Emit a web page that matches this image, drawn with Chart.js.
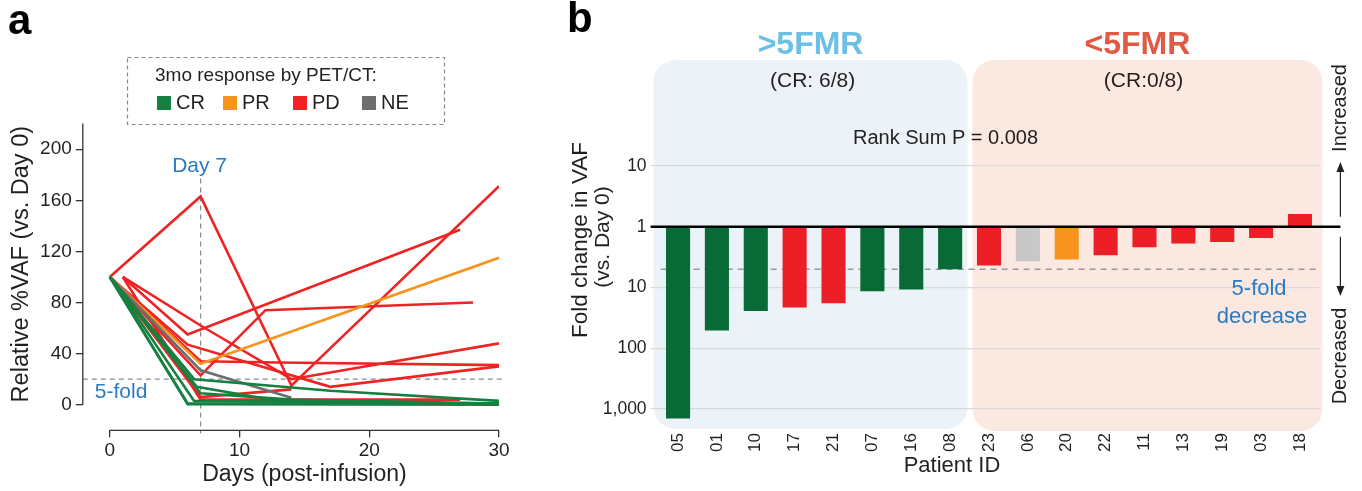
<!DOCTYPE html>
<html>
<head>
<meta charset="utf-8">
<script src="https://cdn.jsdelivr.net/npm/chart.js@4.4.0/dist/chart.umd.min.js"></script>
<style>
    html, body { margin: 0; padding: 0; background: #fff; }
    #chartA { position: absolute; left: 0; top: 0; }
    #chartB { position: absolute; left: 540px; top: 0; }
</style>
</head>
<body>
<canvas id="chartA" width="540" height="491"></canvas>
<canvas id="chartB" width="822" height="491"></canvas>
<script>
// ---- Panel a: relative %VAF over time, one line per patient ----
const crDays = [[0, 6, 30], [0, 6, 30], [0, 6.5, 17, 30], [0, 7, 14, 30], [0, 6.5, 30], [0, 6.7, 13, 30]];
const crVaf  = [[100, 0.5, 0], [100, 1, 1], [100, 20, 11, 3], [100, 9, 4, 1], [100, 3, 1], [100, 14, 3, 0.5]];
const neDays = [[0, 7, 14]];
const neVaf  = [[100, 27, 5.5]];
const prDays = [[0, 7, 30]];
const prVaf  = [[100, 32, 115]];
const pdDays = [[0, 7, 14, 30], [1, 6, 27], [0, 7, 12, 28], [1, 7, 14, 30], [0, 7, 13, 30], [0, 6, 17, 30], [0, 7, 14], [1, 7, 27]];
const pdVaf  = [[100, 163, 15, 171], [100, 55, 137], [100, 23, 74, 80], [100, 62, 20, 48], [100, 34, 33, 31], [100, 47, 14, 30], [100, 6, 12], [100, 4, 4]];
const dayTicks = [0, 10, 20, 30];
const vafTicks = [0, 40, 80, 120, 160, 200];
const legendNames = ['CR', 'PR', 'PD', 'NE'];

// ---- Panel b: fold change in VAF at day 7 per patient ----
const patientIds = ['05', '01', '10', '17', '21', '07', '16', '08', '23', '06', '20', '22', '11', '13', '19', '03', '18'];
const response   = ['CR', 'CR', 'CR', 'PD', 'PD', 'CR', 'CR', 'CR', 'PD', 'NE', 'PR', 'PD', 'PD', 'PD', 'PD', 'PD', 'PD'];
const foldChange = [0.0007, 0.0196, 0.041, 0.047, 0.055, 0.087, 0.093, 0.2, 0.23, 0.27, 0.29, 0.34, 0.46, 0.53, 0.56, 0.65, 1.62];
const foldTicks  = [1, 0, -1, -2, -3]; // log10 of fold change
const foldTickLabels = ['10', '1', '10', '100', '1,000'];

const FONT = "'Liberation Sans', Arial, Helvetica, sans-serif";
const TXT = '#231f20';
const BLUE = '#2a7bc1';
const lineColors = { CR: '#15803f', PR: '#f7941d', PD: '#ee2324', NE: '#6d6e70' };
const barColors  = { CR: '#086a37', PR: '#f7941d', PD: '#ec1f26', NE: '#c8c8c8' };

function text(ctx, str, x, y, size, color, align, weight, rot) {
    ctx.save();
    ctx.font = (weight || 'normal') + ' ' + size + 'px ' + FONT;
    ctx.fillStyle = color;
    ctx.textAlign = align || 'center';
    ctx.textBaseline = 'middle';
    ctx.translate(x, y);
    if (rot) ctx.rotate(rot);
    ctx.fillText(str, 0, 0);
    ctx.restore();
}

function dashedLine(ctx, x1, y1, x2, y2, color, width, dash) {
    ctx.save();
    ctx.strokeStyle = color;
    ctx.lineWidth = width;
    ctx.setLineDash(dash || []);
    ctx.beginPath();
    ctx.moveTo(x1, y1);
    ctx.lineTo(x2, y2);
    ctx.stroke();
    ctx.restore();
}

// Build the line datasets (first dataset is drawn on top, so greens go first)
const datasetsA = [];
function addLines(daysList, vafList, color) {
    daysList.forEach((days, i) => {
        datasetsA.push({
            data: days.map((d, j) => ({ x: d, y: vafList[i][j] })),
            borderColor: color,
            borderWidth: 2.6,
            showLine: true,
            pointRadius: 0,
            fill: false
        });
    });
}
addLines(crDays, crVaf, lineColors.CR);
addLines(neDays, neVaf, lineColors.NE);
addLines(prDays, prVaf, lineColors.PR);
addLines(pdDays, pdVaf, lineColors.PD);

const panelAPlugin = {
    id: 'panelA',
    beforeDatasetsDraw(chart) {
        const ctx = chart.ctx, xs = chart.scales.x, ys = chart.scales.y, area = chart.chartArea;
        // Day 7 and 5-fold reference lines
        dashedLine(ctx, xs.getPixelForValue(7), ys.getPixelForValue(177), xs.getPixelForValue(7), area.bottom + 3, '#8a8a8a', 1.2, [5, 4]);
        dashedLine(ctx, area.left, ys.getPixelForValue(20), area.right + 4, ys.getPixelForValue(20), '#8a8a8a', 1.2, [5, 4]);
    },
    afterDraw(chart) {
        const ctx = chart.ctx, xs = chart.scales.x, ys = chart.scales.y, area = chart.chartArea;
        // Offset axis lines
        dashedLine(ctx, area.left, ys.getPixelForValue(0), area.left, ys.getPixelForValue(220), '#333', 1.3);
        dashedLine(ctx, xs.getPixelForValue(0), area.bottom, xs.getPixelForValue(30), area.bottom, '#333', 1.3);

        text(ctx, 'a', 8, 22, 42, '#000', 'left', 'bold');
        text(ctx, 'Relative %VAF (vs. Day 0)', 22, (ys.getPixelForValue(0) + ys.getPixelForValue(220)) / 2, 23.5, TXT, 'center', 'normal', -Math.PI / 2);
        text(ctx, 'Days (post-infusion)', (xs.getPixelForValue(0) + xs.getPixelForValue(30)) / 2, 475, 23, TXT);
        text(ctx, 'Day 7', xs.getPixelForValue(7) - 1, 166, 21, BLUE);
        text(ctx, '5-fold', area.left + 12, 392, 21, BLUE, 'left');

        // Legend box
        ctx.save();
        ctx.strokeStyle = '#8a8a8a';
        ctx.lineWidth = 1.2;
        ctx.setLineDash([4, 3]);
        ctx.strokeRect(127.5, 57.5, 317, 67);
        ctx.restore();
        text(ctx, '3mo response by PET/CT:', 155, 76, 19, TXT, 'left');
        const itemX = [157, 223, 293, 362];
        legendNames.forEach((name, i) => {
            ctx.fillStyle = lineColors[name];
            ctx.fillRect(itemX[i], 96, 14, 14);
            text(ctx, name, itemX[i] + 19, 103.5, 20, TXT, 'left');
        });
    }
};

new Chart(document.getElementById('chartA'), {
    type: 'scatter',
    data: { datasets: datasetsA },
    options: {
        responsive: false,
        animation: false,
        layout: { padding: { left: 0, top: 123.6, right: 41, bottom: 0 } },
        plugins: { legend: { display: false }, tooltip: { enabled: false } },
        scales: {
            x: {
                type: 'linear', min: -2.08, max: 30,
                afterBuildTicks: s => { s.ticks = dayTicks.map(v => ({ value: v })); },
                afterFit: s => { s.height = 60.7; },
                border: { display: false },
                grid: { drawOnChartArea: false, drawTicks: true, tickLength: 7, color: '#333', lineWidth: 1.3 },
                ticks: { font: { family: FONT, size: 19 }, color: TXT, padding: 2, maxRotation: 0 }
            },
            y: {
                type: 'linear', min: -20, max: 220,
                afterBuildTicks: s => { s.ticks = vafTicks.map(v => ({ value: v })); },
                afterFit: s => { s.width = 82.8; },
                border: { display: false },
                grid: { drawOnChartArea: false, drawTicks: true, tickLength: 7, color: '#333', lineWidth: 1.3 },
                ticks: { font: { family: FONT, size: 19 }, color: TXT, padding: 4 }
            }
        }
    },
    plugins: [panelAPlugin]
});

// ---- Panel b ----
function roundRect(ctx, x, y, w, h, r, color) {
    ctx.save();
    ctx.fillStyle = color;
    ctx.beginPath();
    ctx.roundRect(x, y, w, h, r);
    ctx.fill();
    ctx.restore();
}

const panelBPlugin = {
    id: 'panelB',
    beforeDraw(chart) {
        const ctx = chart.ctx, xs = chart.scales.x, area = chart.chartArea;
        const mid = xs.getPixelForValue(7.5);
        const l = xs.getPixelForValue(-0.5) - 5, r = xs.getPixelForValue(16.5) + 3;
        roundRect(ctx, l, area.top, mid - 2 - l, area.bottom - 1 - area.top, 22, '#ebf3f9');
        roundRect(ctx, mid + 3, area.top, r - mid - 3, area.bottom + 1 - area.top, 22, '#fbe9e1');
    },
    beforeDatasetsDraw(chart) {
        const ctx = chart.ctx, xs = chart.scales.x, ys = chart.scales.y;
        const y5 = ys.getPixelForValue(Math.log10(1 / 5));
        dashedLine(ctx, xs.getPixelForValue(-0.5) + 2, y5, xs.getPixelForValue(16.5) - 3, y5, '#999', 1.4, [6, 5]);
    },
    afterDatasetsDraw(chart) {
        const ctx = chart.ctx, ys = chart.scales.y, area = chart.chartArea;
        const y0 = ys.getPixelForValue(0);
        dashedLine(ctx, area.left - 8, y0, area.right + 21, y0, '#000', 2.6);
    },
    afterDraw(chart) {
        const ctx = chart.ctx, xs = chart.scales.x, ys = chart.scales.y, area = chart.chartArea;
        const mid = xs.getPixelForValue(7.5);
        const blueC = (xs.getPixelForValue(-0.5) - 5 + mid - 2) / 2;
        const redC = (mid + 3 + xs.getPixelForValue(16.5) + 3) / 2 - 10;
        const y0 = ys.getPixelForValue(0);

        text(ctx, 'b', 27, 20, 42, '#000', 'left', 'bold');
        text(ctx, '>5FMR', blueC, 45, 32, '#6cc0e5', 'center', 'bold');
        text(ctx, '<5FMR', redC, 45, 32, '#e05a44', 'center', 'bold');
        text(ctx, '(CR: 6/8)', blueC + 2, 81, 21, TXT);
        text(ctx, '(CR:0/8)', redC + 6, 81, 21, TXT);
        text(ctx, 'Rank Sum P = 0.008', mid - 24, 138, 20, TXT);
        text(ctx, '5-fold', xs.getPixelForValue(15) - 2, 289, 22, BLUE);
        text(ctx, 'decrease', xs.getPixelForValue(15) + 1, 317, 22, BLUE);

        text(ctx, 'Fold change in VAF', 41, 240, 22.5, TXT, 'center', 'normal', -Math.PI / 2);
        text(ctx, '(vs. Day 0)', 63, 237, 21, TXT, 'center', 'normal', -Math.PI / 2);
        text(ctx, 'Patient ID', 412, 466, 22, TXT);

        // Increased / Decreased side arrows
        const ax = area.right + 21;
        text(ctx, 'Increased', ax, 108, 20, TXT, 'center', 'normal', -Math.PI / 2);
        text(ctx, 'Decreased', ax, 356, 20, TXT, 'center', 'normal', -Math.PI / 2);
        dashedLine(ctx, ax, y0 - 10, ax, 168, '#222', 1.2);
        dashedLine(ctx, ax, y0 + 10, ax, 290, '#222', 1.2);
        ctx.save();
        ctx.fillStyle = '#222';
        ctx.beginPath();
        ctx.moveTo(ax, 162); ctx.lineTo(ax - 4, 172); ctx.lineTo(ax + 4, 172); ctx.closePath();
        ctx.moveTo(ax, 296); ctx.lineTo(ax - 4, 286); ctx.lineTo(ax + 4, 286); ctx.closePath();
        ctx.fill();
        ctx.restore();
    }
};

new Chart(document.getElementById('chartB'), {
    type: 'bar',
    data: {
        labels: patientIds,
        datasets: [{
            data: foldChange.map(f => Math.log10(f)),
            backgroundColor: response.map(r => barColors[r]),
            borderWidth: 0,
            barPercentage: 0.62,
            categoryPercentage: 1
        }]
    },
    options: {
        responsive: false,
        animation: false,
        layout: { padding: { left: 0, top: 60, right: 42.6, bottom: 0 } },
        plugins: { legend: { display: false }, tooltip: { enabled: false } },
        scales: {
            x: {
                afterFit: s => { s.height = 61; },
                border: { display: false },
                grid: { display: false },
                ticks: { font: { family: FONT, size: 17 }, color: TXT, padding: -5, minRotation: 90, maxRotation: 90, autoSkip: false }
            },
            y: {
                type: 'linear', min: -3.344, max: 2.742,
                afterBuildTicks: s => { s.ticks = foldTicks.map(v => ({ value: v })); },
                afterFit: s => { s.width = 118.6; },
                border: { display: false },
                grid: {
                    drawTicks: true, tickLength: 8, lineWidth: 1.2,
                    color: c => (c.tick && c.tick.value === 0) ? 'rgba(0,0,0,0)' : '#d9d9d9'
                },
                ticks: {
                    font: { family: FONT, size: 17.5 }, color: TXT, padding: 4,
                    callback: (v, i) => foldTickLabels[i]
                }
            }
        }
    },
    plugins: [panelBPlugin]
});
</script>
</body>
</html>
